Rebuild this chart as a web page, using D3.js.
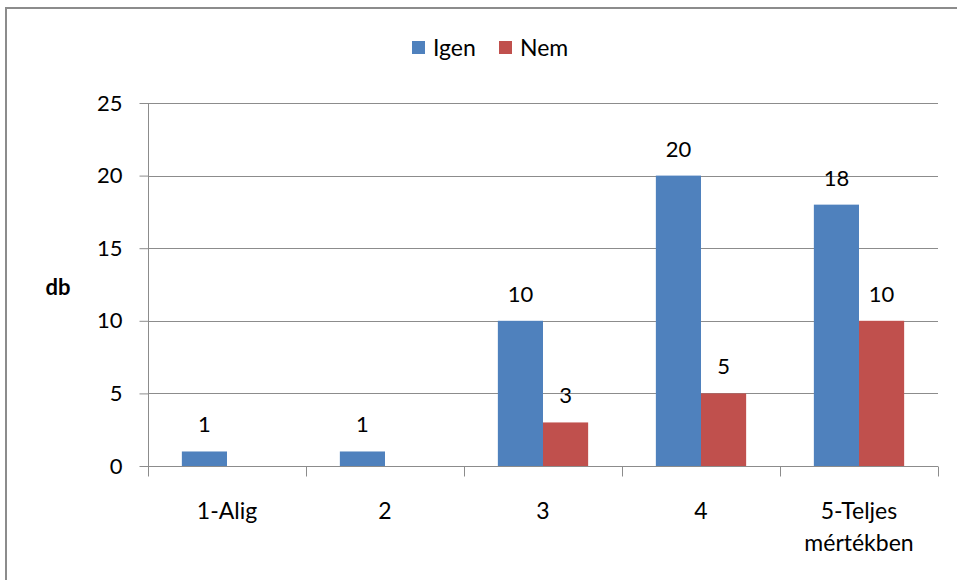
<!DOCTYPE html>
<html><head><meta charset="utf-8">
<script src="https://cdn.jsdelivr.net/npm/d3@7"></script>
<style>body{margin:0;background:#fff}svg{display:block}text{font-family:Lato,"Open Sans",sans-serif;fill:#000}</style>
</head><body><svg id="c" width="957" height="580"></svg>
<script>
const categories = ["1-Alig", "2", "3", "4", "5-Teljes mértékben"];
const seriesNames = ["Igen", "Nem"];
const igen = [1, 1, 10, 20, 18];
const nem = [0, 0, 3, 5, 10];
const yTicks = [0, 5, 10, 15, 20, 25];
const colors = ["#4F81BD", "#C0504D"];
const yTitle = "db";

const svg = d3.select("#c");
const m = {l:148, r:938, t:103, b:466};
const x = d3.scaleBand().domain(categories).range([m.l, m.r]).paddingInner(0).paddingOuter(0);
const y = d3.scaleLinear().domain([0,25]).range([m.b, m.t]);
const gw = x.bandwidth();
const barW = gw/3.5;
const xs = d3.scaleBand().domain(seriesNames).range([0, barW*2]);

// frame
svg.append("rect").attr("x",6).attr("y",8).attr("width",1000).attr("height",600)
  .attr("fill","none").attr("stroke","#8c8c8c").attr("stroke-width",2);

// gridlines
svg.append("g").selectAll("line").data(yTicks.filter(d=>d>0)).join("line")
  .attr("x1",m.l).attr("x2",m.r).attr("y1",d=>Math.round(y(d))+0.5).attr("y2",d=>Math.round(y(d))+0.5)
  .attr("stroke","#8c8c8c").attr("stroke-width",1);

// y axis
const ya = svg.append("g").attr("transform",`translate(${m.l+0.5},0)`)
  .call(d3.axisLeft(y).tickValues(yTicks).tickSize(9).tickPadding(17).tickFormat(d3.format("d")));
ya.select(".domain").attr("stroke","#8c8c8c").attr("d",`M0,${m.t}V${m.b}`);
ya.selectAll(".tick line").attr("stroke","#8c8c8c");
ya.selectAll(".tick text").attr("font-size",22).attr("font-family","Lato").attr("fill","#000");

const data = categories.map((c,i)=>({c, vals:[igen[i], nem[i]]}));
const g = svg.append("g");
data.forEach(d=>{
  d.vals.forEach((v,j)=>{
    const x0 = x(d.c) + (gw - barW*2)/2 + xs(seriesNames[j]);
    if (v>0) {
      g.append("rect").attr("x",x0).attr("y",y(v)).attr("width",barW).attr("height",y(0)-y(v)).attr("fill",colors[j]);
      g.append("text").attr("x",x0+barW/2).attr("y",y(v)-19).attr("text-anchor","middle")
        .attr("font-size",22).text(v);
    }
  });
});

// x axis
const xa = svg.append("g").attr("transform",`translate(0,${m.b+0.5})`);
xa.append("line").attr("x1",m.l).attr("x2",m.r).attr("stroke","#8c8c8c");
const bounds = categories.map(c=>x(c)).concat([m.r]);
xa.selectAll(".tk").data(bounds).join("line").attr("class","tk")
  .attr("x1",d=>Math.round(d)+0.5).attr("x2",d=>Math.round(d)+0.5).attr("y1",0).attr("y2",10).attr("stroke","#8c8c8c");
categories.forEach(c=>{
  const cx = x(c)+gw/2;
  const parts = c.startsWith("5-") ? ["5-Teljes","mértékben"] : [c];
  parts.forEach((p,k)=>{
    xa.append("text").attr("x",cx).attr("y",52+k*32).attr("text-anchor","middle").attr("font-size",23).text(p);
  });
});

// y title
svg.append("text").attr("x",58).attr("y",295).attr("text-anchor","middle").attr("font-size",22).attr("font-weight","bold").text(yTitle);

// legend
const lg = svg.append("g");
const lx = [412, 499];
seriesNames.forEach((s,i)=>{
  lg.append("rect").attr("x",lx[i]).attr("y",41).attr("width",13).attr("height",13).attr("fill",colors[i]);
  lg.append("text").attr("x",lx[i]+21).attr("y",56).attr("font-size",23).text(s);
});
</script></body></html>
